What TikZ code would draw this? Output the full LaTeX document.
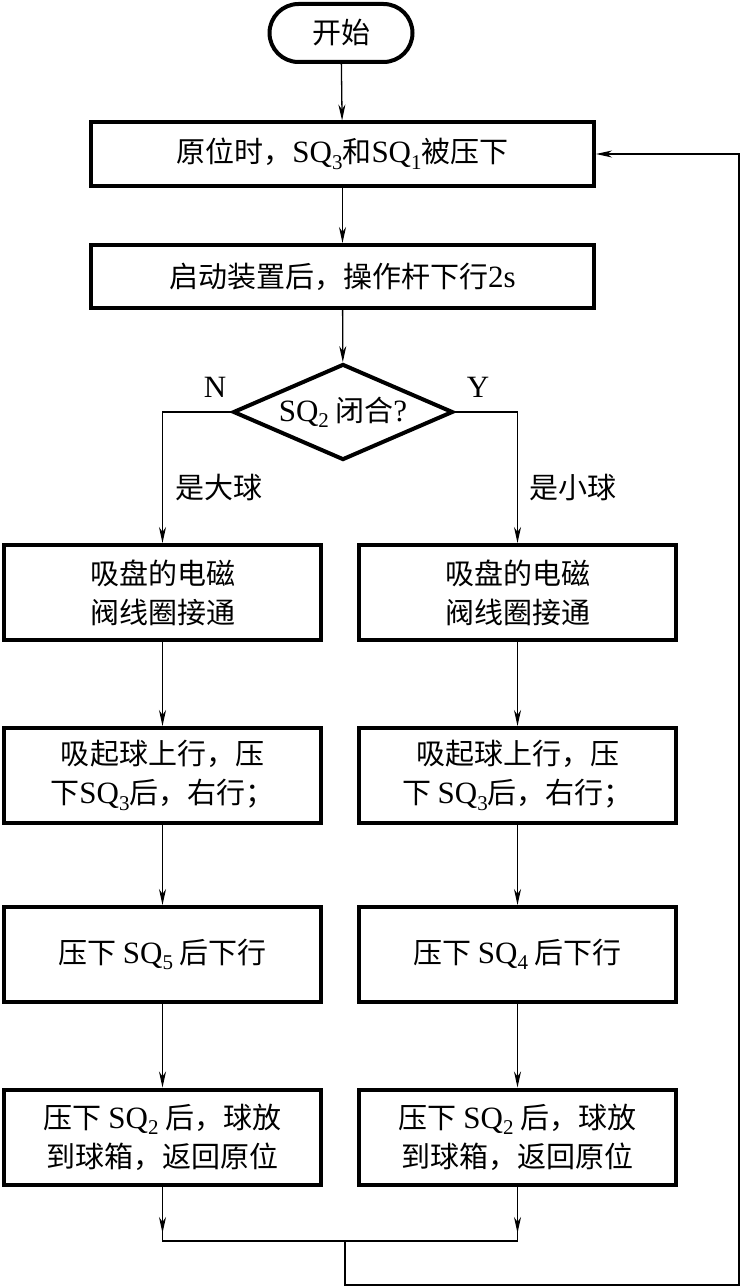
\documentclass[tikz,border=0pt]{standalone}
\usepackage{fontspec}
\setmainfont{Liberation Serif}
\newfontfamily\cjk{Noto Sans CJK SC}
\usetikzlibrary{arrows.meta,shapes.geometric,calc}
\newcommand\sqsub[1]{{\rmfamily\fontsize{31}{39}\selectfont SQ\raisebox{-0.45ex}{\fontsize{21}{21}\selectfont #1}}}
\newcommand\lat[1]{{\rmfamily\fontsize{31}{39}\selectfont #1}}
\begin{document}
\begin{tikzpicture}[x=1pt,y=-1pt,
  txt/.style={font={\cjk\fontsize{29}{39}\selectfont}, align=center, inner sep=0pt},
  box/.style={txt, draw, line width=4pt, minimum width=317pt, minimum height=95pt},
  widebox/.style={txt, draw, line width=4pt, minimum width=503pt, minimum height=63pt},
  conn/.style={line width=1.3pt},
  arr/.style={conn, -{Stealth[length=16pt,width=7pt,inset=5pt]}}]
\useasboundingbox (0,0) rectangle (742,1287);

\node[txt, draw, line width=4pt, rounded corners=29pt, minimum width=143pt, minimum height=58pt] (start) at (341,33) {开始};
\node[widebox] (b1) at (342.5,154) {原位时，\sqsub{3}和\sqsub{1}被压下};
\node[widebox] (b2) at (342.5,276.5) {启动装置后，操作杆下行\lat{2s}};
\node[txt, draw, diamond, line width=4pt, shape aspect=2.25, minimum width=220pt, minimum height=96pt] (dec) at (343,412) {\sqsub{2} 闭合\lat{?}};

\node[txt] (nlab) at (215,387) {\lat{N}};
\node[txt] (ylab) at (478,387) {\lat{Y}};
\node[txt] (big) at (219,488) {是大球};
\node[txt] (small) at (573,488) {是小球};

\node[box] (l3) at (162.5,592.5) {吸盘的电磁\\阀线圈接通};
\node[box] (r3) at (517.5,592.5) {吸盘的电磁\\阀线圈接通};
\node[box] (l4) at (162.5,775.5) {吸起球上行，压\\下\sqsub{3}后，右行；};
\node[box] (r4) at (517.5,775.5) {吸起球上行，压\\下 \sqsub{3}后，右行；};
\node[box] (l5) at (162.5,954.5) {压下 \sqsub{5} 后下行};
\node[box] (r5) at (517.5,954.5) {压下 \sqsub{4} 后下行};
\node[box] (l6) at (162.5,1137) {压下 \sqsub{2} 后，球放\\到球箱，返回原位};
\node[box] (r6) at (517.5,1137) {压下 \sqsub{2} 后，球放\\到球箱，返回原位};

\coordinate (dl) at (162.5,412);
\coordinate (dr) at (517.5,412);
\coordinate (jL) at (162.5,1241);
\coordinate (jR) at (517.5,1241);
\coordinate (jM) at (345,1241);
\coordinate (jB) at (345,1285);
\coordinate (cBR) at (739,1285);
\coordinate (cTR) at (739,154);

\draw[arr] (start) -- (b1);
\draw[arr] (b1) -- (b2);
\draw[arr] (b2) -- (dec);
\draw[arr] (dec.west) -- (dl) -- (l3.north);
\draw[arr] (dec.east) -- (dr) -- (r3.north);
\draw[arr] (l3) -- (l4);
\draw[arr] (r3) -- (r4);
\draw[arr] (l4) -- (l5);
\draw[arr] (r4) -- (r5);
\draw[arr] (l5) -- (l6);
\draw[arr] (r5) -- (r6);
\draw[conn] (l6.south) -- (jL) -- (jR) -- (r6.south);
\draw[arr] (l6.south) -- ($(jL)+(0,-8)$);
\draw[arr] (r6.south) -- ($(jR)+(0,-8)$);
\draw[arr] (jM) -- (jB) -- (cBR) -- (cTR) -- (b1.east);
\end{tikzpicture}
\end{document}
